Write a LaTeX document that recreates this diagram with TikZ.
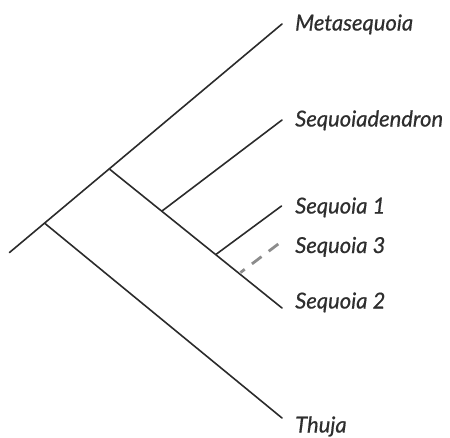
\documentclass[tikz,border=0pt]{standalone}
\usepackage{fontspec}
\setmainfont{Lato}
\newfontfamily\taxonfont{Lato}[FakeBold=0.6]
\begin{document}
\begin{tikzpicture}[x=1pt,y=-1pt,
  branch/.style={draw=treeink,line width=1.6pt,line cap=round},
  uncertain/.style={draw=dashgray,line width=2.8pt,dash pattern=on 12pt off 9pt},
  taxon/.style={anchor=base west,inner sep=0pt,text=labelink,
    font=\taxonfont\itshape\fontsize{22}{24}\selectfont}]
\definecolor{treeink}{HTML}{2B2B2B}
\definecolor{labelink}{HTML}{2E2E2E}
\definecolor{dashgray}{HTML}{8C8C8C}
\useasboundingbox (0,0) rectangle (450,437);
% internal branch points
\coordinate (root) at (9.5,252.5);
\coordinate (n1) at (45,223.5);
\coordinate (n2) at (110,169.5);
\coordinate (n3) at (162,211);
\coordinate (n4) at (216.5,254);
\coordinate (n5) at (240.5,272.5);
% tips
\coordinate (tMeta) at (282,24);
\coordinate (tDendron) at (282,120);
\coordinate (tS1) at (281.5,206);
\coordinate (tS3) at (278.3,244);
\coordinate (tS2) at (282,308);
\coordinate (tThuja) at (282,418);
% taxon labels
\node[taxon] (lMeta) at (295,30.5) {Metasequoia};
\node[taxon] (lDendron) at (295,126.5) {Sequoiadendron};
\node[taxon] (lS1) at (295,213.5) {Sequoia 1};
\node[taxon] (lS3) at (295,253) {Sequoia 3};
\node[taxon] (lS2) at (295,308.5) {Sequoia 2};
\node[taxon] (lThuja) at (295,432.5) {Thuja};
% tree
\draw[branch] (root) -- (tMeta);
\draw[branch] (n1) -- (tThuja);
\draw[branch] (n2) -- (tS2);
\draw[branch] (n3) -- (tDendron);
\draw[branch] (n4) -- (tS1);
\draw[uncertain] (tS3) -- (n5);
\end{tikzpicture}
\end{document}
